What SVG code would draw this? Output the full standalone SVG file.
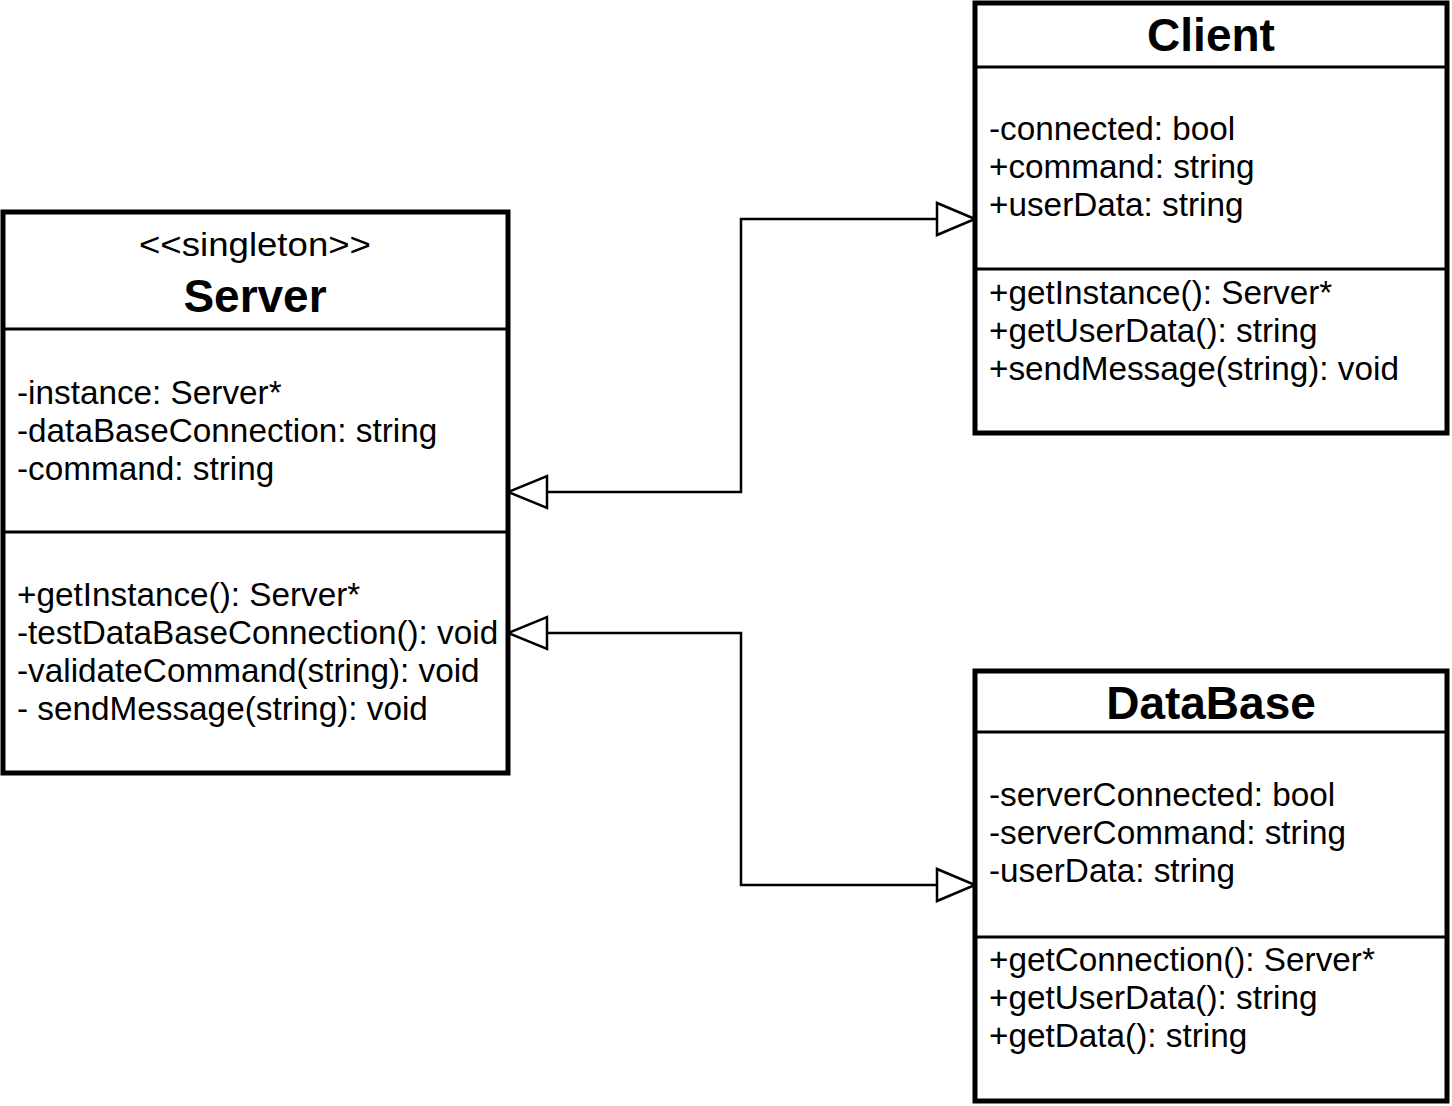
<svg xmlns="http://www.w3.org/2000/svg" width="1452" height="1106" viewBox="0 0 1452 1106">
<style>
.box{fill:#fff;stroke:#000;stroke-width:5}
.sep{stroke:#000;stroke-width:3}
.t{font-family:"Liberation Sans",Arial,sans-serif;font-size:33.3px;fill:#000}
.title{font-family:"Liberation Sans",Arial,sans-serif;font-size:46px;font-weight:bold;fill:#000;text-anchor:middle}
.st{font-family:"Liberation Sans",Arial,sans-serif;font-size:33.3px;fill:#000;text-anchor:middle}
.conn{fill:none;stroke:#000;stroke-width:2.5}
.head{fill:#fff;stroke:#000;stroke-width:2.5}
</style>
<rect width="1452" height="1106" fill="#fff"/>
<g id="connectors">
<polyline class="conn" points="547,492 741,492 741,219 937,219"/>
<polygon class="head" points="508,492 547,476 547,508"/>
<polygon class="head" points="975,219 937,203 937,235"/>
<polyline class="conn" points="547,633 741,633 741,885 937,885"/>
<polygon class="head" points="508,633 547,617 547,649"/>
<polygon class="head" points="975,885 937,869 937,901"/>
</g>
<g id="server">
<rect class="box" x="3" y="212" width="505" height="561"/>
<line class="sep" x1="3" y1="329" x2="508" y2="329"/>
<line class="sep" x1="3" y1="532" x2="508" y2="532"/>
<text class="st" x="255" y="256" textLength="232" lengthAdjust="spacingAndGlyphs">&lt;&lt;singleton&gt;&gt;</text>
<text class="title" x="255" y="312">Server</text>
<text class="t" x="17" y="404">-instance: Server*</text>
<text class="t" x="17" y="442">-dataBaseConnection: string</text>
<text class="t" x="17" y="480">-command: string</text>
<text class="t" x="17" y="606">+getInstance(): Server*</text>
<text class="t" x="17" y="644">-testDataBaseConnection(): void</text>
<text class="t" x="17" y="682">-validateCommand(string): void</text>
<text class="t" x="17" y="720">- sendMessage(string): void</text>
</g>
<g id="client">
<rect class="box" x="975" y="3" width="472" height="430"/>
<line class="sep" x1="975" y1="67" x2="1447" y2="67"/>
<line class="sep" x1="975" y1="269" x2="1447" y2="269"/>
<text class="title" x="1211" y="51">Client</text>
<text class="t" x="989" y="140">-connected: bool</text>
<text class="t" x="989" y="178">+command: string</text>
<text class="t" x="989" y="216">+userData: string</text>
<text class="t" x="989" y="304">+getInstance(): Server*</text>
<text class="t" x="989" y="342">+getUserData(): string</text>
<text class="t" x="989" y="380">+sendMessage(string): void</text>
</g>
<g id="database">
<rect class="box" x="975" y="671" width="472" height="430"/>
<line class="sep" x1="975" y1="732" x2="1447" y2="732"/>
<line class="sep" x1="975" y1="937" x2="1447" y2="937"/>
<text class="title" x="1211" y="719">DataBase</text>
<text class="t" x="989" y="806">-serverConnected: bool</text>
<text class="t" x="989" y="844">-serverCommand: string</text>
<text class="t" x="989" y="882">-userData: string</text>
<text class="t" x="989" y="971">+getConnection(): Server*</text>
<text class="t" x="989" y="1009">+getUserData(): string</text>
<text class="t" x="989" y="1047">+getData(): string</text>
</g>
</svg>
